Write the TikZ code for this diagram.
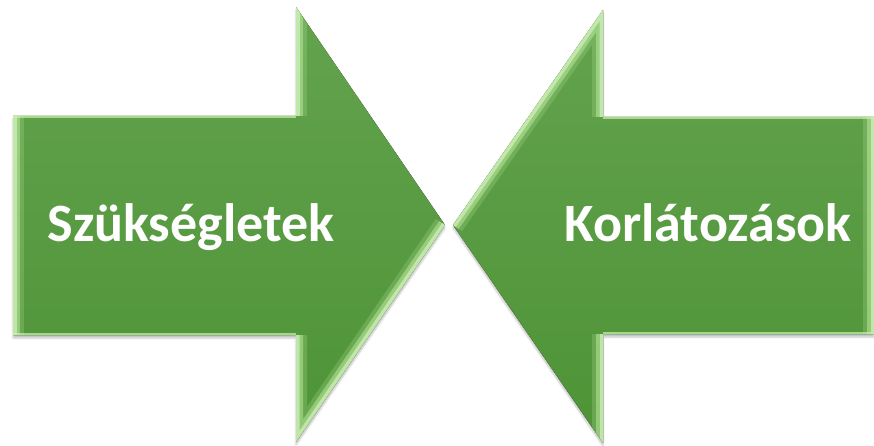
\documentclass[tikz,border=0pt]{standalone}
\usepackage{fontspec}
\setmainfont{Carlito}
\usetikzlibrary{shadows.blur}
\begin{document}
\begin{tikzpicture}[x=1pt,y=-1pt,line join=miter,
  glow/.style={draw=glint,line width=14,opacity=.45,
    preaction={draw=glint,line width=22,opacity=.2},
    postaction={draw=glint!60!white,line width=7,opacity=.6}},
  rim/.style={draw=glint,line width=5,opacity=.7},
  label/.style={text=white,anchor=base,font=\bfseries\fontsize{54}{60}\selectfont}]
\definecolor{leafgreen}{RGB}{99,163,78}
\definecolor{darkleaf}{RGB}{78,147,54}
\definecolor{glint}{RGB}{200,244,168}
\useasboundingbox (0,0) rectangle (874,446);
% left arrow
\fill[top color=leafgreen,bottom color=darkleaf,
  blur shadow={shadow xshift=0pt,shadow yshift=-3pt,shadow opacity=25}]
  (13,116)--(296,116)--(296,7)--(445,225)--(296,442)--(296,335)--(13,335)--cycle;
\begin{scope}
\clip (13,116)--(296,116)--(296,7)--(445,225)--(296,442)--(296,335)--(13,335)--cycle;
\path[glow] (13,335)--(13,116);
\path[glow] (296,7)--(296,116);
\path[glow] (296,335)--(296,442)--(445,225);
\path[rim] (13,116)--(296,116);
\path[rim] (13,335)--(296,335);
\end{scope}
% right arrow
\fill[top color=leafgreen,bottom color=darkleaf,
  blur shadow={shadow xshift=0pt,shadow yshift=-3pt,shadow opacity=25}]
  (453,225)--(603,10)--(603,117)--(874,117)--(874,334)--(603,334)--(603,443)--cycle;
\begin{scope}
\clip (453,225)--(603,10)--(603,117)--(874,117)--(874,334)--(603,334)--(603,443)--cycle;
\path[glow] (453,225)--(603,10)--(603,117);
\path[glow] (603,334)--(603,443);
\path[glow] (874,117)--(874,334);
\path[rim] (603,117)--(874,117);
\path[rim] (874,334)--(603,334);
\end{scope}
\node[label] (needs) at (191,241) {Szükségletek};
\node[label] (limits) at (708,241) {Korlátozások};
\end{tikzpicture}
\end{document}
